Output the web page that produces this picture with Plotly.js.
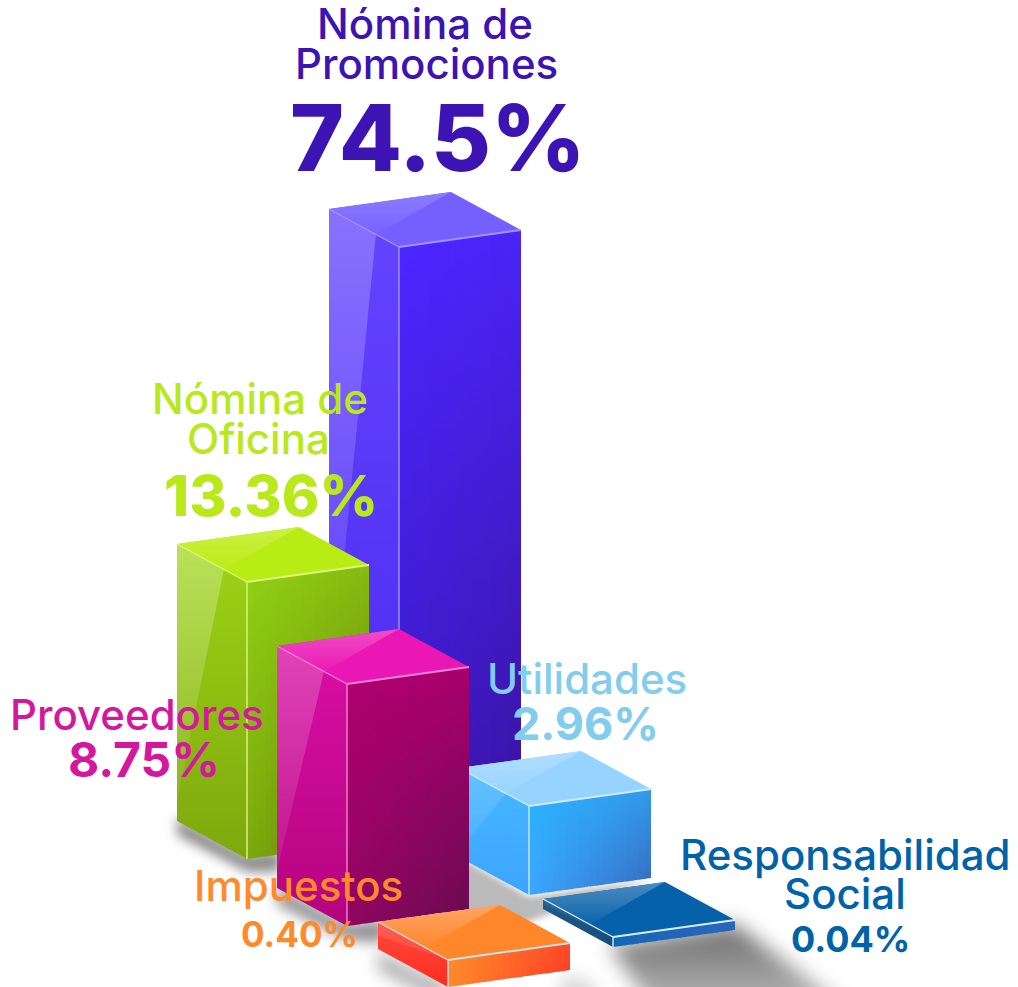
<!DOCTYPE html>
<html><head><meta charset="utf-8">
<script src="https://cdn.plot.ly/plotly-3.0.1.min.js"></script>
<style>html,body{margin:0;padding:0;background:#fff;overflow:hidden}#chart{width:1018px;height:987px}</style>
</head><body><div id="chart"></div>
<script>
// ---- chart data (as printed in the picture) ----
const categories = ["Nómina de Promociones","Nómina de Oficina","Proveedores","Utilidades","Impuestos","Responsabilidad Social"];
const values = [74.5,13.36,8.75,2.96,0.40,0.04];
const percentLabels = ["74.5%","13.36%","8.75%","2.96%","0.40%","0.04%"];
const nameLines = [["Nómina de","Promociones"],["Nómina de","Oficina"],["Proveedores"],["Utilidades"],["Impuestos"],["Responsabilidad","Social"]];
// drawn column heights (not to scale with the values), axis units
const drawnHeights = [540,277,242,89,27,10];

// ---- placement of the columns on the isometric floor, axis units ----
const frontX = [399,247,347,529,448,613];
const frontBaseY = [787,859,926,895,987,947];
const LEFT=[-70,-38], RIGHT=[122,-17];
const drawOrder = [0,1,3,5,2,4];

// ---- styles ----
const topMain  = ["#7560ff","#b9ec15","#ea17b4","#96d4ff","#ff8629","#0561a9"];
const topSheen = ["#8d7dff","#cbf043","#f14cc6","#b0deff","#ffa466","#4a8cc0"];
const leftTop  = ["#6344ff","#9cd414","#d80fa4","#45b8ff","#ff4a3c","#1f5c8c"];
const leftBot  = ["#4d2cf0","#7fa80e","#b5047e","#3ea4ff","#ff2c22","#174c78"];
const faceTL = ["#4b26ff","#90ce14","#af006f","#2db0ff","#ff8a2b","#1467b5"];
const faceTR = ["#4a24f5","#86bb10","#a8006e","#3299e8","#ff4a26","#2a66bc"];
const faceBL = ["#3b1ac4","#7ba90d","#8f0660","#3ca6ff","#ff8a2b","#1467b5"];
const faceBR = ["#3b14a8","#5e7e04","#6b0a52","#3570c5","#ff3d28","#2a66bc"];
const edgeColor= ["#a294ff","#dff67e","#f283d4","#cdebff","#bfe4f0","#d8ecfa"];
const sheenAlpha=[0.24,0.3,0.22,0.16,0.1,0.06];
const nameColor = ["#3c14b4","#b9e81b","#d4189e","#80cdee","#ff8a2a","#0062a8"];
const pctColor  = ["#3c14b4","#b9e81b","#d4189e","#80cdee","#ff8a2a","#0062a8"];

const FONT = "Inter, 'Noto Sans', sans-serif";
const nameSize = [42,42,42,42,42,42];
const pctSize = [92,57,48,45,35,36];
const nameCX = [[425,426],[260,258],[137],[587],[298],[845,845]];
const nameBase = [[40,80],[415,455],[731],[695],[902],[871,910]];
const pctCX = [438,271,144,585,299,850];
const pctBase = [172,517,778,741,948,953];

const traces=[];
const add=(p,spec)=>{traces.push(Object.assign({x:p.map(q=>q[0]).concat(p[0][0]),y:p.map(q=>q[1]).concat(p[0][1]),mode:"lines",line:{width:0},fill:"toself",hoverinfo:"skip",showlegend:false},spec));};
const grad=(type,a,b,start,stop)=>({fillgradient:{type:type,colorscale:[[0,a],[1,b]],start:start,stop:stop}});
const plus=(p,d,k=1)=>[p[0]+d[0]*k,p[1]+d[1]*k];
const hex=s=>[1,3,5].map(j=>parseInt(s.substr(j,2),16));
const mixHex=(a,b,t)=>{const A=hex(a),B=hex(b);return "#"+A.map((v,j)=>Math.round(v+(B[j]-v)*t).toString(16).padStart(2,"0")).join("");};

// floor shadows: plain polygons, softened by a blur once they are drawn
const shadowBlur=[];
function shadow(poly,spec,blur){ add(poly,spec); shadowBlur.push(blur); }
const black=a=>"rgba(0,0,0,"+a+")";
function corners(i){
  const F=[frontX[i],frontBaseY[i]];
  return {F,L:plus(F,LEFT),R:plus(F,RIGHT)};
}
const c=corners;
shadow([plus(c(5).F,[-4,-2]),plus(c(5).R,[0,-6]),plus(c(5).R,[127,89]),plus(c(5).F,[47,73])],grad("vertical",black(0.56),black(0.28),930,1005),10);
shadow([c(3).L,plus(c(3).F,[0,2]),plus(c(3).R,[0,2]),plus(c(5).L,[10,4]),plus(c(4).L,[130,-20]),plus(c(2).R,[-6,4])],{fillcolor:black(0.27)},3);
shadow([plus(c(1).L,[0,-4]),plus(c(1).F,[0,-4]),plus(c(1).F,[33,-9]),plus(c(1).F,[33,13]),plus(c(1).F,[0,13]),plus(c(1).L,[0,14])],{fillcolor:black(0.45)},6);
shadow([plus(c(2).L,[0,-2]),plus(c(2).F,[0,-2]),plus(c(2).F,[38,-6]),plus(c(2).F,[38,16]),plus(c(2).F,[0,14]),plus(c(2).L,[0,16])],{fillcolor:black(0.45)},7);
shadow([plus(c(4).L,[0,2]),plus(c(4).F,[0,-2]),plus(c(4).F,[0,18]),plus(c(4).L,[0,22])],{fillcolor:black(0.3)},8);
shadow([plus(c(4).R,[-10,7]),plus(c(4).R,[15,7]),plus(c(4).R,[70,77]),plus(c(4).R,[-10,77])],{fillcolor:black(0.14)},8);

drawOrder.forEach(i=>{
  const h=drawnHeights[i];
  const {F,L,R}=corners(i);
  const up=p=>[p[0],p[1]-h];
  const Ft=up(F),Lt=up(L),Rt=up(R),Bt=[Lt[0]+RIGHT[0],Lt[1]+RIGHT[1]];
  // left face
  add([Lt,Ft,F,L],grad("vertical",leftTop[i],leftBot[i],Lt[1],F[1]));
  const P=plus(Lt,[Ft[0]-Lt[0],Ft[1]-Lt[1]],0.67);
  if(h>50) add([Lt,P,plus(Lt,[0,h],0.93)],grad("vertical","rgba(255,255,255,"+sheenAlpha[i]+")","rgba(255,255,255,0.05)",Lt[1],L[1]));
  else add([Lt,plus(Lt,[Ft[0]-Lt[0],Ft[1]-Lt[1]],1),plus(Lt,[0,h*0.5])],{fillcolor:"rgba(255,255,255,"+sheenAlpha[i]+")"});
  // right face: columns with a bilinear colour ramp give the diagonal shading
  const K=20;
  for(let k=0;k<K;k++){
    const a=k/K,b=Math.min(1,(k+1)/K+1.2/122);
    const t0=plus(Ft,[Rt[0]-Ft[0],Rt[1]-Ft[1]],a),t1=plus(Ft,[Rt[0]-Ft[0],Rt[1]-Ft[1]],b);
    const b0=plus(F,[R[0]-F[0],R[1]-F[1]],a),b1=plus(F,[R[0]-F[0],R[1]-F[1]],b);
    const m=(k+0.5)/K;
    add([t0,t1,b1,b0],grad("vertical",mixHex(faceTL[i],faceTR[i],m),mixHex(faceBL[i],faceBR[i],m),t0[1],b0[1]));
  }
  // top face
  add([Lt,Bt,Rt,Ft],{fillcolor:topMain[i]});
  add([Lt,Bt,P],grad("vertical",topSheen[i],topMain[i],Bt[1],P[1]+4));
  // light edges
  const edge=(a,b,w)=>traces.push({x:[a[0],b[0]],y:[a[1],b[1]],mode:"lines",line:{color:edgeColor[i],width:w},hoverinfo:"skip",showlegend:false});
  edge(Lt,Ft,1.3); edge(Ft,Rt,2); edge(Ft,F,1.4);
});

// labels: one annotation per printed line
const annotations=[];
const text=(s,x,base,size,color,weight)=>annotations.push({text:s,x:x,y:base,xref:"x",yref:"y",xanchor:"center",yanchor:"bottom",yshift:-size*0.24,showarrow:false,borderpad:0,font:{family:FONT,size:size,color:color,weight:weight}});
categories.forEach((cat,i)=>{
  nameLines[i].forEach((s,j)=>text(s,nameCX[i][j],nameBase[i][j],nameSize[i],nameColor[i],450));
  text(percentLabels[i],pctCX[i],pctBase[i],pctSize[i],pctColor[i],i<2?800:700);
});

Plotly.newPlot("chart",traces,{
  width:1018,height:987,margin:{l:0,r:0,t:0,b:0},paper_bgcolor:"#fff",plot_bgcolor:"#fff",showlegend:false,
  xaxis:{range:[0,1018],visible:false,fixedrange:true},
  yaxis:{range:[987,0],visible:false,fixedrange:true},
  annotations:annotations
},{staticPlot:true,displayModeBar:false}).then(gd=>{
  const groups=gd.querySelectorAll(".scatterlayer .trace");
  shadowBlur.forEach((b,i)=>{ groups[i].style.filter="blur("+b+"px)"; });
});
</script></body></html>
